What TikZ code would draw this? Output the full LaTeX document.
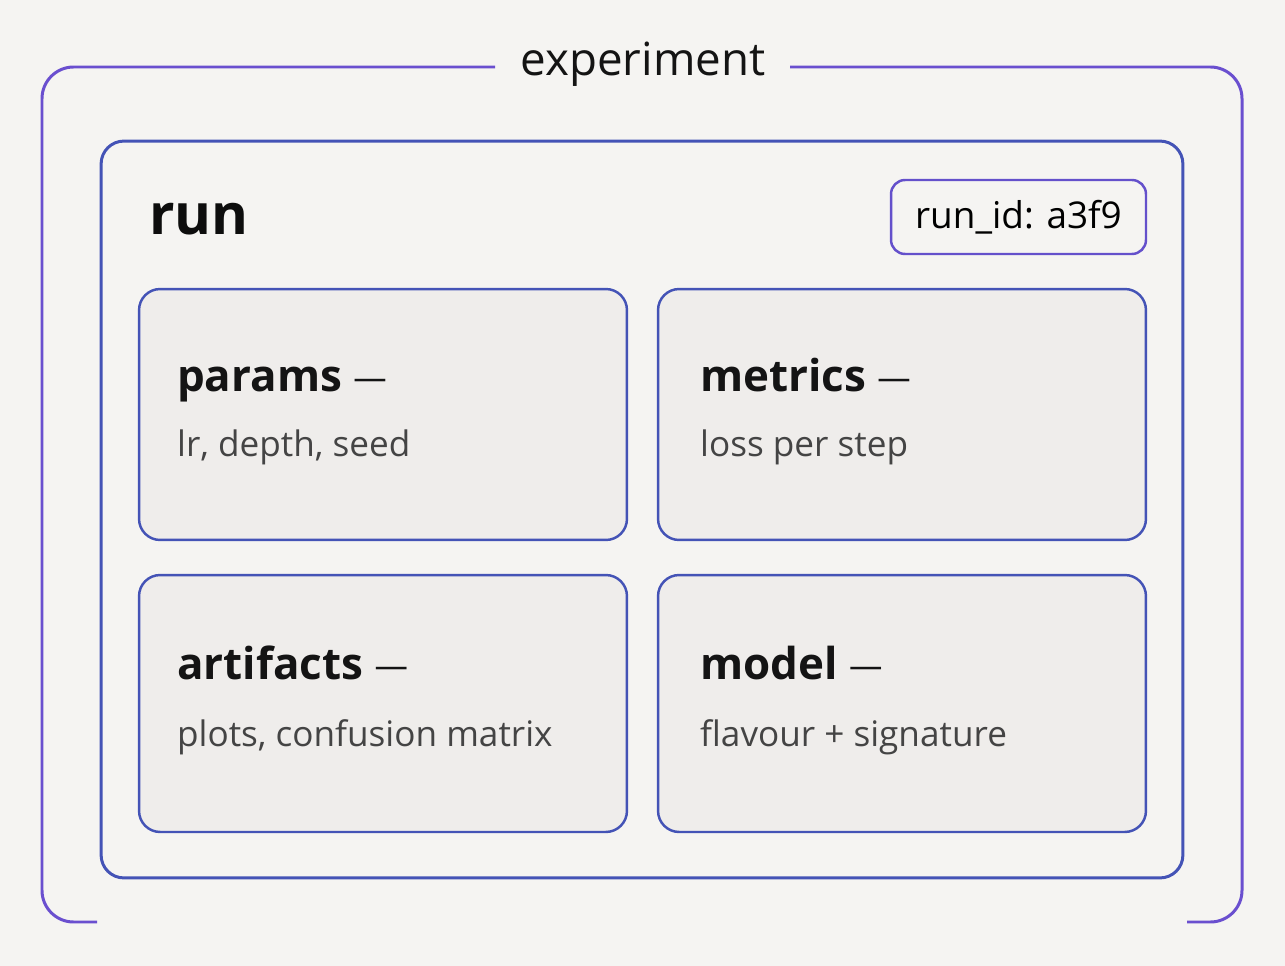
\documentclass[tikz,border=0pt]{standalone}
\usepackage{fontspec}
\setmainfont{Open Sans}
\usetikzlibrary{positioning}
\usepackage{xcolor}
\definecolor{bgcolor}{HTML}{F5F4F2}
\definecolor{expcolor}{HTML}{6A4FCF}
\definecolor{runcolor}{HTML}{4453B6}
\definecolor{cardcolor}{HTML}{EFEDEB}
\definecolor{subcolor}{HTML}{444444}
\newcommand*{\titledash}{{\mdseries\fontsize{19}{22}\selectfont\raisebox{0.06em}{—}}}

\begin{document}
\begin{tikzpicture}[x=0.02cm, y=-0.02cm, every node/.style={inner sep=0pt},
    frame/.style={draw=expcolor, line width=1.7pt, rounded corners=18pt},
    runbox/.style={draw=runcolor, line width=1.7pt, rounded corners=13pt, minimum width=21.64cm, minimum height=14.74cm},
    card/.style={draw=runcolor, line width=1.4pt, fill=cardcolor, rounded corners=12pt, minimum width=9.76cm, minimum height=5.02cm},
    lowcard/.style={card, minimum height=5.14cm},
    idbox/.style={draw=expcolor!85!runcolor, line width=1.4pt, rounded corners=8pt, minimum width=5.1cm, minimum height=1.48cm},
    title/.style={anchor=base west, font=\fontsize{25}{30}\selectfont\bfseries, text=black!92},
    subtitle/.style={anchor=base west, font=\fontsize{20}{24}\selectfont, text=subcolor}]
    \tikzstyle{heading} = [font=\fontsize{26}{31}\selectfont, text=black!92]

    \useasboundingbox[fill=bgcolor] (0,0) rectangle (1285,966);

    % experiment frame, open at the label and at the bottom
    \node[heading] (experiment) at (643, 64) {experiment};
    \coordinate (gapL) at (495, 67);
    \coordinate (gapR) at (790, 67);
    \coordinate (footL) at (97, 922);
    \coordinate (footR) at (1187, 922);
    \draw[frame] (gapL) -- (42, 67) -- (42, 922) -- (footL);
    \draw[frame] (gapR) -- (1242, 67) -- (1242, 922) -- (footR);

    % run
    \node[runbox] (run) at (642, 509.5) {};
    \node[anchor=base west, font=\fontsize{32}{38}\selectfont\bfseries, text=black!95] (runlabel) at (149, 235) {run};
    \node[idbox] (runid) at (1018.5, 217) {\fontsize{21}{25}\selectfont run\_id: a3f9};

    \node[card] (params) at (383, 414.5) {};
    \node[card] (metrics) at (902, 414.5) {};
    \node[lowcard] (artifacts) at (383, 703.5) {};
    \node[lowcard] (model) at (902, 703.5) {};

    \node[title, xshift=0.78cm, yshift=-2.08cm] at (params.north west) (paramstitle) {params \titledash};
    \node[subtitle, below=1.3cm of paramstitle.base west, anchor=base west] (paramstext) {lr, depth, seed};

    \node[title, xshift=0.86cm, yshift=-2.08cm] at (metrics.north west) (metricstitle) {metrics \titledash};
    \node[subtitle, below=1.3cm of metricstitle.base west, anchor=base west] (metricstext) {loss per step};

    \node[title, xshift=0.78cm, yshift=-2.12cm] at (artifacts.north west) (artifactstitle) {artifacts \titledash};
    \node[subtitle, below=1.34cm of artifactstitle.base west, anchor=base west] (artifactstext) {plots, confusion matrix};

    \node[title, xshift=0.86cm, yshift=-2.12cm] at (model.north west) (modeltitle) {model \titledash};
    \node[subtitle, below=1.34cm of modeltitle.base west, anchor=base west] (modeltext) {flavour + signature};

\end{tikzpicture}
\end{document}
